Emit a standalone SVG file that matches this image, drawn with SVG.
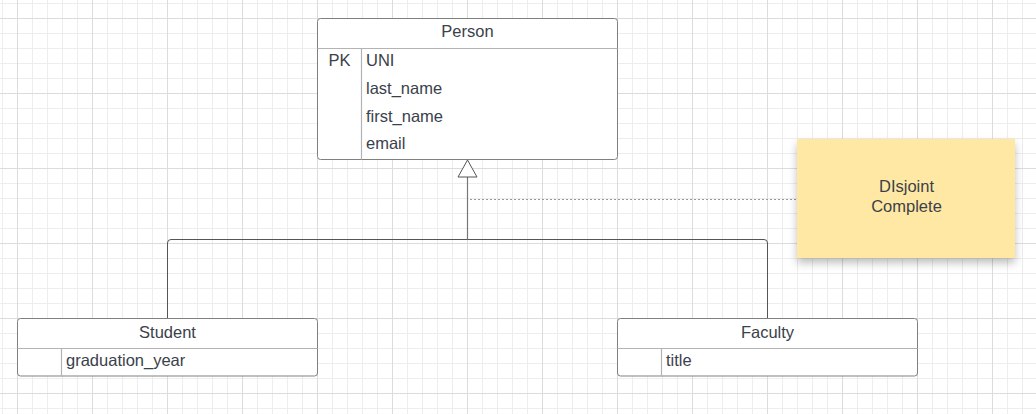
<svg xmlns="http://www.w3.org/2000/svg" width="1036" height="414" viewBox="0 0 1036 414">
<defs>
<pattern id="minor" width="15" height="15" x="2" y="3" patternUnits="userSpaceOnUse">
<path d="M0.5 0V15M0 0.5H15" stroke="#ededed" stroke-width="1" fill="none"/>
</pattern>
<pattern id="major" width="75" height="75" x="17" y="18" patternUnits="userSpaceOnUse">
<path d="M0.5 0V75M0 0.5H75" stroke="#dcdcdc" stroke-width="1" fill="none"/>
</pattern>
<filter id="shadow" x="-20%" y="-20%" width="140%" height="160%">
<feDropShadow dx="0" dy="5" stdDeviation="4" flood-color="#000" flood-opacity="0.25"/>
</filter>
</defs>
<style>
.box{fill:#fff;stroke:#808080;stroke-width:1}
.div{stroke:#b3b3b3;stroke-width:1.2;fill:none}
.t{font-family:"Liberation Sans",Arial,sans-serif;font-size:16.5px;fill:#3a414a}
.c{text-anchor:middle}
.conn{stroke:#555;stroke-width:1;fill:none}
</style>
<rect width="1036" height="414" fill="#fff"/>
<rect width="1036" height="414" fill="url(#minor)"/>
<rect width="1036" height="414" fill="url(#major)"/>

<g id="connectors">
<path class="conn" d="M167.5 318 V243 Q167.5 239.5 171 239.5 H764 Q767.5 239.5 767.5 243 V318"/>
<path d="M467.5 177 V239.5" stroke="#777" stroke-width="1.2" fill="none"/>
<path d="M467.5 160 L458 177 H477 Z" fill="#fff" stroke="#555" stroke-width="1"/>
<path d="M470 199.5 H797" stroke="#999" stroke-width="1" stroke-dasharray="2 2" fill="none"/>
</g>

<g id="person">
<rect class="box" x="317.5" y="18.5" width="300" height="141" rx="3"/>
<path class="div" d="M317.5 48.5H617.5M361.5 48.5V159.5"/>
<text class="t c" x="467.5" y="37">Person</text>
<text class="t c" x="339.5" y="66">PK</text>
<text class="t" x="366" y="66">UNI</text>
<text class="t" x="366" y="94">last_name</text>
<text class="t" x="366" y="121.5">first_name</text>
<text class="t" x="366" y="149">email</text>
</g>

<g id="note">
<rect x="797" y="139" width="218" height="119" fill="#ffe8a3" filter="url(#shadow)"/>
<text class="t c" x="906.5" y="192">DIsjoint</text>
<text class="t c" x="906.5" y="212">Complete</text>
</g>

<g id="student">
<rect class="box" x="17.5" y="318.5" width="300" height="57.5" rx="3"/>
<path class="div" d="M17.5 348.5H317.5M61.5 348.5V376"/>
<text class="t c" x="167.5" y="337.5">Student</text>
<text class="t" x="66" y="365.5">graduation_year</text>
</g>

<g id="faculty">
<rect class="box" x="617.5" y="318.5" width="300" height="57.5" rx="3"/>
<path class="div" d="M617.5 348.5H917.5M661.5 348.5V376"/>
<text class="t c" x="767.5" y="337.5">Faculty</text>
<text class="t" x="666" y="365.5">title</text>
</g>
</svg>
